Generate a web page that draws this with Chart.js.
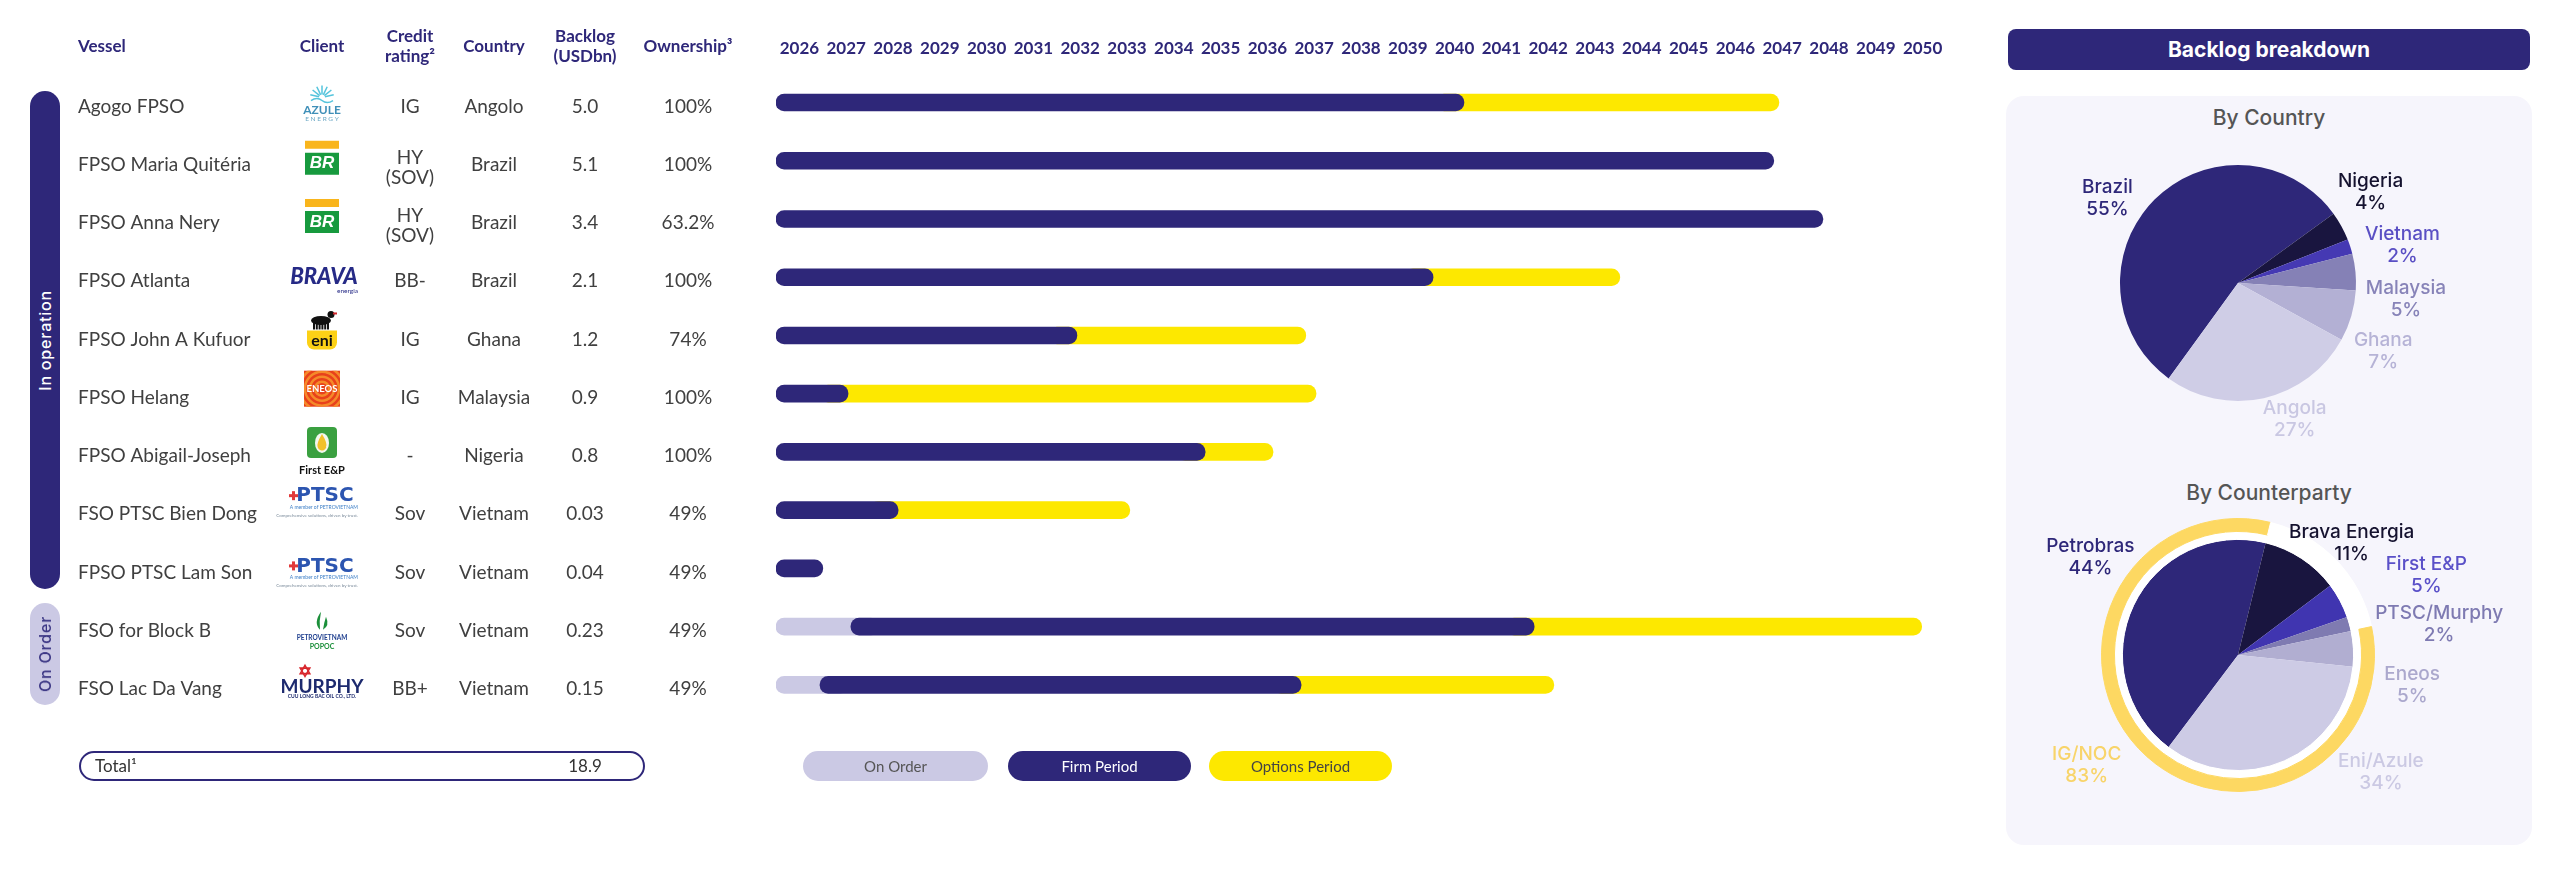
<!DOCTYPE html>
<html>
<head>
<meta charset="utf-8">
<title>Backlog</title>
<script src="https://cdn.jsdelivr.net/npm/chart.js@4.4.0/dist/chart.umd.min.js"></script>
<style>
  html, body { margin: 0; padding: 0; background: #fff; }
  #wrap { position: relative; width: 2560px; height: 876px; overflow: hidden; font-family: Lato, sans-serif; }
  canvas, .box { position: absolute; }
  .pill { position: absolute; border-radius: 15px; display: flex; align-items: center; justify-content: center; }
  .pill span { writing-mode: vertical-rl; transform: rotate(180deg); font: 500 16px Inter, sans-serif; letter-spacing: 0.8px; }
  .leg { position: absolute; top: 751px; height: 30px; border-radius: 15px; text-align: center; font: 15px Lato, sans-serif; line-height: 30px; }
  .ptitle { position: absolute; left: 2006px; width: 526px; text-align: center; font: 500 21px Inter, sans-serif; color: #555; line-height: 26px; }
</style>
</head>
<body>
<div id="wrap">
  <canvas id="gantt" width="1990" height="876" style="left:0;top:0;width:1990px;height:876px"></canvas>

  <div class="pill" style="left:30px;top:91px;width:30px;height:498px;background:#2e2779"><span style="color:#fff">In operation</span></div>
  <div class="pill" style="left:30px;top:603px;width:30px;height:102px;background:#cbc9e4"><span style="color:#3b3684">On Order</span></div>

  <div class="box" style="left:79px;top:751px;width:566px;height:30px;box-sizing:border-box;border:2px solid #2e2779;border-radius:16px;font:17px Lato,sans-serif;line-height:26px;color:#333">
    <span style="position:absolute;left:14px;top:0">Total¹</span>
    <span id="totalVal" style="position:absolute;left:484px;width:40px;text-align:center;top:0"></span>
  </div>

  <div class="leg" style="left:803px;width:185px;background:#cbc9e4;color:#555">On Order</div>
  <div class="leg" style="left:1008px;width:183px;background:#2e2779;color:#fff">Firm Period</div>
  <div class="leg" style="left:1209px;width:183px;background:#fde800;color:#444">Options Period</div>

  <div class="box" style="left:2008px;top:29px;width:522px;height:41px;border-radius:8px;background:#2e2779;color:#fff;text-align:center;font:700 21px Inter,sans-serif;line-height:41px">Backlog breakdown</div>
  <div class="box" style="left:2006px;top:96px;width:526px;height:749px;border-radius:18px;background:#f6f5fc"></div>
  <div class="ptitle" style="top:105px">By Country</div>
  <div class="ptitle" style="top:480px">By Counterparty</div>
  <canvas id="pieCountry" width="526" height="300" style="left:2005px;top:140px;width:526px;height:300px"></canvas>
  <canvas id="pieCounterparty" width="526" height="300" style="left:2005px;top:505px;width:526px;height:300px"></canvas>
</div>

<script>
// ---- data ----
const vessels = ['Agogo FPSO', 'FPSO Maria Quitéria', 'FPSO Anna Nery', 'FPSO Atlanta', 'FPSO John A Kufuor',
  'FPSO Helang', 'FPSO Abigail-Joseph', 'FSO PTSC Bien Dong', 'FPSO PTSC Lam Son', 'FSO for Block B', 'FSO Lac Da Vang']
const clients = ['azule', 'br', 'br', 'brava', 'eni', 'eneos', 'firstep', 'ptsc', 'ptsc', 'petrovietnam', 'murphy']
const creditRatings = ['IG', 'HY (SOV)', 'HY (SOV)', 'BB-', 'IG', 'IG', '-', 'Sov', 'Sov', 'Sov', 'BB+']
const countries = ['Angolo', 'Brazil', 'Brazil', 'Brazil', 'Ghana', 'Malaysia', 'Nigeria', 'Vietnam', 'Vietnam', 'Vietnam', 'Vietnam']
const backlogUsdBn = ['5.0', '5.1', '3.4', '2.1', '1.2', '0.9', '0.8', '0.03', '0.04', '0.23', '0.15']
const ownership = ['100%', '100%', '63.2%', '100%', '74%', '100%', '100%', '49%', '49%', '49%', '49%']
const backlogTotal = '18.9'

const timelineStart = 2026
const onOrderEnd = [null, null, null, null, null, null, null, null, null, 2027.6, 2026.94]
const firmEnd = [2040.7, 2047.32, 2048.37, 2040.04, 2032.43, 2027.54, 2035.17, 2028.61, 2027.0, 2042.2, 2037.22]
const optionsEnd = [2047.43, null, null, 2044.03, 2037.32, 2037.54, 2036.62, 2033.56, null, 2050.48, 2042.62]
const years = [2026, 2027, 2028, 2029, 2030, 2031, 2032, 2033, 2034, 2035, 2036, 2037, 2038,
  2039, 2040, 2041, 2042, 2043, 2044, 2045, 2046, 2047, 2048, 2049, 2050]

const countryNames = ['Brazil', 'Nigeria', 'Vietnam', 'Malaysia', 'Ghana', 'Angola']
const countryShares = [55, 4, 2, 5, 7, 27]
const counterparties = ['Petrobras', 'Brava Energia', 'First E&P', 'PTSC/Murphy', 'Eneos', 'Eni/Azule']
const counterpartyShares = [44, 11, 5, 2, 5, 34]
const igNocMember = [true, false, false, false, true, true]

// ---- styles ----
const NAVY = '#2e2779'
const YELLOW = '#fde800'
const LAVENDER = '#cbc9e4'
const TEXT = '#404040'
const COLX = { vessel: 78, client: 322, credit: 410, country: 494, backlog: 585, owner: 688 }
const logoNudge = [0, 0, 0, 0, 0, 0, 0, -10, 2, 0, 0]

document.getElementById('totalVal').textContent = backlogTotal

function drawLogo(ctx, key, x, y) {
  ctx.save()
  ctx.textAlign = 'center'
  ctx.textBaseline = 'middle'
  if (key === 'azule') {
    ctx.strokeStyle = '#55c4dc'
    ctx.lineWidth = 1.5
    for (let k = 0; k < 7; k++) {
      const a = Math.PI + (k + 0.5) * Math.PI / 7
      ctx.beginPath()
      ctx.moveTo(x + Math.cos(a) * 3, y - 9 + Math.sin(a) * 3)
      ctx.lineTo(x + Math.cos(a) * 12, y - 9 + Math.sin(a) * 12)
      ctx.stroke()
    }
    ctx.beginPath()
    ctx.moveTo(x - 11, y - 6)
    ctx.quadraticCurveTo(x - 5, y - 10, x, y - 6)
    ctx.quadraticCurveTo(x + 5, y - 2, x + 11, y - 6)
    ctx.stroke()
    ctx.fillStyle = '#3f8fb8'
    ctx.font = 'bold 12px "Liberation Sans Narrow", Lato'
    ctx.fillText('AZULE', x, y + 4)
    ctx.font = '6.5px Lato'
    ctx.fillStyle = '#6aa7c4'
    ctx.fillText('E N E R G Y', x, y + 12)
  } else if (key === 'br') {
    ctx.fillStyle = '#f9b51c'
    ctx.fillRect(x - 17, y - 24, 34, 8)
    ctx.fillStyle = '#179a3e'
    ctx.fillRect(x - 17, y - 12, 34, 22)
    ctx.fillStyle = '#fff'
    ctx.font = 'italic bold 17px "Liberation Sans"'
    ctx.fillText('BR', x, y - 1)
  } else if (key === 'brava') {
    ctx.fillStyle = '#262a86'
    ctx.font = 'italic 900 22px Lato'
    ctx.fillText('BRAVA', x + 2, y - 4)
    ctx.font = '6.5px Lato'
    ctx.textAlign = 'right'
    ctx.fillText('energia', x + 36, y + 10)
  } else if (key === 'eni') {
    ctx.fillStyle = '#111'
    ctx.beginPath(); ctx.ellipse(x - 1, y - 19, 10, 4.5, 0, 0, Math.PI * 2); ctx.fill()
    ctx.beginPath(); ctx.arc(x + 9, y - 25, 3.5, 0, Math.PI * 2); ctx.fill()
    ctx.strokeStyle = '#111'
    ctx.lineWidth = 2
    for (let k = -8; k <= 6; k += 2.8) {
      ctx.beginPath(); ctx.moveTo(x + k, y - 17); ctx.lineTo(x + k, y - 10); ctx.stroke()
    }
    ctx.fillStyle = '#d1262b'
    ctx.fillRect(x + 11, y - 27, 4, 2)
    ctx.fillStyle = '#fcd116'
    ctx.beginPath(); ctx.roundRect(x - 15, y - 9, 30, 19, [0, 0, 7, 7]); ctx.fill()
    ctx.fillStyle = '#111'
    ctx.font = 'bold 16px Lato'
    ctx.fillText('eni', x, y + 1)
  } else if (key === 'eneos') {
    ctx.fillStyle = '#e8411b'
    ctx.fillRect(x - 18, y - 27, 36, 36)
    ctx.save()
    ctx.beginPath(); ctx.rect(x - 18, y - 27, 36, 36); ctx.clip()
    ctx.strokeStyle = '#f58a2a'
    ctx.lineWidth = 2.5
    for (const r of [7, 12, 17, 22]) { ctx.beginPath(); ctx.arc(x, y - 9, r, 0, Math.PI * 2); ctx.stroke() }
    ctx.restore()
    ctx.fillStyle = '#fff'
    ctx.font = 'bold 9.5px Lato'
    ctx.fillText('ENEOS', x, y - 9)
  } else if (key === 'firstep') {
    ctx.fillStyle = '#3aa040'
    ctx.beginPath(); ctx.roundRect(x - 15, y - 29, 30, 31, 4); ctx.fill()
    ctx.fillStyle = '#f3f7ee'
    ctx.beginPath(); ctx.ellipse(x, y - 13, 7, 10, 0, 0, Math.PI * 2); ctx.fill()
    ctx.fillStyle = '#f3c12a'
    ctx.beginPath()
    ctx.moveTo(x, y - 22)
    ctx.quadraticCurveTo(x + 6, y - 12, x + 4, y - 9)
    ctx.arc(x, y - 10, 4.5, 0.3, Math.PI - 0.3)
    ctx.quadraticCurveTo(x - 6, y - 12, x, y - 22)
    ctx.fill()
    ctx.fillStyle = '#111'
    ctx.font = 'bold 11px Lato'
    ctx.fillText('First E&P', x, y + 15)
  } else if (key === 'ptsc') {
    ctx.fillStyle = '#2c55b0'
    ctx.font = 'bold 20px "DejaVu Sans"'
    ctx.fillText('PTSC', x + 3, y - 8)
    ctx.fillStyle = '#e23a3a'
    ctx.fillRect(x - 33, y - 10, 9, 3)
    ctx.fillRect(x - 30, y - 13, 3, 9)
    ctx.textAlign = 'right'
    ctx.fillStyle = '#3d7fc7'
    ctx.font = '5px Lato'
    ctx.fillText('A member of PETROVIETNAM', x + 36, y + 3)
    ctx.fillStyle = '#7a8a9a'
    ctx.font = '4.5px Lato'
    ctx.fillText('Comprehensive solutions, driven by trust.', x + 36, y + 11)
  } else if (key === 'petrovietnam') {
    ctx.fillStyle = '#1b8f3a'
    ctx.beginPath()
    ctx.moveTo(x - 1, y - 19)
    ctx.quadraticCurveTo(x - 9, y - 8, x - 2, y - 1)
    ctx.quadraticCurveTo(x - 3, y - 10, x - 1, y - 19)
    ctx.fill()
    ctx.beginPath()
    ctx.moveTo(x + 4, y - 14)
    ctx.quadraticCurveTo(x + 8, y - 5, x + 1, y - 1)
    ctx.quadraticCurveTo(x + 2, y - 8, x + 4, y - 14)
    ctx.fill()
    ctx.fillStyle = '#1f3f8f'
    ctx.font = 'bold 6.5px "Liberation Sans Narrow", Lato'
    ctx.fillText('PETROVIETNAM', x, y + 7)
    ctx.fillStyle = '#1b8f3a'
    ctx.font = 'bold 7px Lato'
    ctx.fillText('POPOC', x, y + 16)
  } else if (key === 'murphy') {
    ctx.strokeStyle = '#d8272d'
    ctx.lineWidth = 1.6
    for (const rot of [-Math.PI / 2, Math.PI / 2]) {
      ctx.beginPath()
      for (let k = 0; k < 3; k++) {
        const a = rot + k * 2 * Math.PI / 3
        const px = x - 17 + Math.cos(a) * 5.5, py = y - 18 + Math.sin(a) * 5.5
        if (k === 0) ctx.moveTo(px, py); else ctx.lineTo(px, py)
      }
      ctx.closePath()
      ctx.stroke()
    }
    ctx.fillStyle = '#1d2a6e'
    ctx.font = 'bold 19px "Liberation Sans Narrow", Lato'
    ctx.fillText('MURPHY', x, y - 2)
    ctx.font = 'bold 5px Lato'
    ctx.fillText('CUU LONG BAC OIL CO., LTD.', x, y + 8)
  }
  ctx.restore()
}

const vesselTable = {
  id: 'vesselTable',
  afterDraw(chart) {
    const ctx = chart.ctx
    const ys = chart.scales.y
    ctx.save()
    ctx.textBaseline = 'middle'
    ctx.fillStyle = NAVY
    ctx.font = 'bold 17px Lato'
    ctx.textAlign = 'left'
    ctx.fillText('Vessel', COLX.vessel, 47)
    ctx.textAlign = 'center'
    ;[['Client', COLX.client], ['Country', COLX.country], ['Ownership³', COLX.owner]]
      .forEach(([t, x]) => ctx.fillText(t, x, 47))
    ;[['Credit', 'rating²', COLX.credit], ['Backlog', '(USDbn)', COLX.backlog]]
      .forEach(([a, b, x]) => { ctx.fillText(a, x, 37); ctx.fillText(b, x, 57) })

    vessels.forEach((name, i) => {
      const y = ys.getPixelForValue(i) + 4
      ctx.fillStyle = TEXT
      ctx.font = '19px Lato'
      ctx.textAlign = 'left'
      ctx.fillText(name, COLX.vessel, y)
      ctx.textAlign = 'center'
      const cr = creditRatings[i].split(' ')
      if (cr.length > 1) {
        ctx.fillText(cr[0], COLX.credit, y - 7)
        ctx.fillText(cr[1], COLX.credit, y + 13)
      } else {
        ctx.fillText(cr[0], COLX.credit, y)
      }
      ctx.fillText(countries[i], COLX.country, y)
      ctx.fillText(backlogUsdBn[i], COLX.backlog, y)
      ctx.fillText(ownership[i], COLX.owner, y)
      drawLogo(ctx, clients[i], COLX.client, y + logoNudge[i])
    })
    ctx.restore()
  }
}

const firmStart = vessels.map((_, i) => onOrderEnd[i] ?? timelineStart)

new Chart(document.getElementById('gantt'), {
  type: 'bar',
  data: {
    labels: vessels,
    datasets: [
      { label: 'Firm Period', order: 0, backgroundColor: NAVY,
        data: vessels.map((_, i) => [firmStart[i], firmEnd[i]]) },
      { label: 'Options Period', order: 1, backgroundColor: YELLOW,
        data: vessels.map((_, i) => optionsEnd[i] ? [firmEnd[i] - 0.6, optionsEnd[i]] : null) },
      { label: 'On Order', order: 2, backgroundColor: LAVENDER,
        data: vessels.map((_, i) => onOrderEnd[i] ? [timelineStart, onOrderEnd[i] + 0.6] : null) }
    ]
  },
  options: {
    indexAxis: 'y',
    responsive: false,
    devicePixelRatio: 1,
    animation: false,
    events: [],
    layout: { padding: { left: 776, right: 44, top: 23, bottom: 162 } },
    datasets: { bar: { grouped: false, barThickness: 17, borderRadius: 9, borderSkipped: false } },
    scales: {
      x: {
        type: 'linear', position: 'top', min: 2026, max: 2051,
        grid: { display: false, drawTicks: false },
        border: { display: false },
        afterBuildTicks: ax => { ax.ticks = years.map(y => ({ value: y + 0.5 })) },
        ticks: {
          autoSkip: false, maxRotation: 0, padding: 15, color: NAVY,
          font: { family: 'Lato', weight: 'bold', size: 17 },
          callback: v => String(Math.floor(v))
        }
      },
      y: { display: false }
    },
    plugins: { legend: { display: false }, tooltip: { enabled: false } }
  },
  plugins: [vesselTable]
})

// labels around the pies, placed from each arc's own angle
const sliceLabels = {
  id: 'sliceLabels',
  afterDatasetsDraw(chart, args, opts) {
    const ctx = chart.ctx
    const arcs = chart.getDatasetMeta(opts.dataset).data
    const toRad = d => d * Math.PI / 180
    const put = (cx, cy, a, d, l1, l2, color) => {
      const x = cx + Math.cos(a) * d, y = cy + Math.sin(a) * d
      ctx.fillStyle = color
      ctx.fillText(l1, x, y - 11)
      ctx.fillText(l2, x, y + 11)
    }
    ctx.save()
    ctx.textAlign = 'center'
    ctx.textBaseline = 'middle'
    ctx.font = '500 19px Inter'
    arcs.forEach((arc, i) => {
      const p = arc.getProps(['x', 'y', 'startAngle', 'endAngle', 'outerRadius'], true)
      const a = (p.startAngle + p.endAngle) / 2 + toRad(opts.nudge[i])
      put(p.x, p.y, a, p.outerRadius * opts.dist[i], opts.names[i], opts.values[i] + '%', opts.colors[i])
    })
    if (opts.group) {
      const g = opts.group, n = arcs.length
      const j = g.member.findIndex((m, i) => m && !g.member[(i - 1 + n) % n])
      let sweep = 0, total = 0
      arcs.forEach((arc, i) => { if (g.member[i]) { sweep += arc.circumference; total += opts.values[i] } })
      const p = arcs[j].getProps(['x', 'y', 'startAngle', 'outerRadius'], true)
      const a = p.startAngle + sweep / 2 + toRad(g.nudge)
      put(p.x, p.y, a, p.outerRadius * g.dist, g.name, total + '%', g.color)
    }
    ctx.restore()
  }
}

new Chart(document.getElementById('pieCountry'), {
  type: 'pie',
  data: {
    labels: countryNames,
    datasets: [{
      data: countryShares,
      backgroundColor: ['#2e2779', '#19153f', '#4539b3', '#8581b6', '#b3b0d4', '#cfcde6'],
      borderWidth: 0
    }]
  },
  options: {
    responsive: false, devicePixelRatio: 1, animation: false, events: [],
    rotation: 216,
    layout: { padding: { left: 115, right: 175, top: 25, bottom: 39 } },
    plugins: {
      legend: { display: false }, tooltip: { enabled: false },
      sliceLabels: {
        dataset: 0, names: countryNames, values: countryShares,
        colors: ['#2e2779', '#15122f', '#5a4fc4', '#8783b8', '#b6b3d6', '#c9c7e2'],
        nudge: [-12, -5.5, 5, 11, 9, -10],
        dist: [1.32, 1.36, 1.43, 1.43, 1.36, 1.25]
      }
    }
  },
  plugins: [sliceLabels]
})

new Chart(document.getElementById('pieCounterparty'), {
  type: 'pie',
  data: {
    labels: counterparties,
    datasets: [
      { data: counterpartyShares, weight: 13,
        backgroundColor: igNocMember.map(m => m ? '#fdd862' : '#ffffff'),
        borderColor: igNocMember.map(m => m ? '#fdd862' : '#ffffff'), borderWidth: 1 },
      { data: counterpartyShares, weight: 8, backgroundColor: '#ffffff', borderColor: '#ffffff', borderWidth: 1 },
      { data: counterpartyShares, weight: 116, borderWidth: 0,
        backgroundColor: ['#2e2779', '#19153f', '#4035b0', '#7f7bb1', '#b1aed1', '#cdcbe5'] }
    ]
  },
  options: {
    responsive: false, devicePixelRatio: 1, animation: false, events: [],
    rotation: 217,
    layout: { padding: { left: 96, right: 156, top: 13, bottom: 13 } },
    plugins: {
      legend: { display: false }, tooltip: { enabled: false },
      sliceLabels: {
        dataset: 2, names: counterparties, values: counterpartyShares,
        colors: ['#2e2779', '#15122f', '#5a50c8', '#7e7ab2', '#aba8cd', '#cbc9e3'],
        nudge: [8, 12, 5, 7, 13, -27],
        dist: [1.53, 1.38, 1.77, 1.76, 1.53, 1.6],
        group: { name: 'IG/NOC', member: igNocMember, color: '#f8d46a', nudge: 8, dist: 1.62 }
      }
    }
  },
  plugins: [sliceLabels]
})
</script>
</body>
</html>
